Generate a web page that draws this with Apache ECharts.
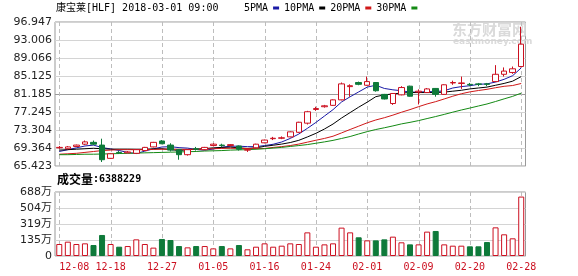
<!DOCTYPE html>
<html><head><meta charset="utf-8">
<script src="https://cdn.jsdelivr.net/npm/echarts@6/dist/echarts.min.js"></script>
<style>html,body{margin:0;padding:0;background:#fff}#c{width:578px;height:276px}</style>
</head><body><div id="c"></div>
<script>
const dates = ['12-08','12-11','12-12','12-13','12-14','12-15','12-18','12-19','12-20','12-21','12-22','12-26','12-27','12-28','12-29',
'01-02','01-03','01-04','01-05','01-08','01-09','01-10','01-11','01-12','01-16','01-17','01-18','01-19','01-22','01-23','01-24','01-25','01-26',
'01-29','01-30','01-31','02-01','02-02','02-05','02-06','02-07','02-08','02-09','02-12','02-13','02-14','02-15','02-16','02-20','02-21','02-22','02-23',
'02-26','02-27','02-28'];
const opens  = [69.4,69.2,69.7,70.2,70.6,70.0,67.1,68.4,68.3,68.2,68.8,69.6,70.9,70.0,69.0,67.9,69.2,69.0,69.9,70.0,69.9,69.8,68.9,69.4,70.5,71.4,71.5,71.8,72.8,74.8,77.8,78.4,78.7,79.9,82.8,83.7,83.1,83.7,81.1,79.1,81.0,82.9,81.6,81.5,82.4,81.1,83.6,83.5,83.3,83.4,83.4,83.9,85.5,85.9,87.2];
const closes = [69.5,69.6,70.0,70.7,70.2,66.8,68.1,68.3,68.5,69.0,69.5,70.6,70.3,68.9,67.9,69.0,69.1,69.5,70.2,69.9,70.1,69.1,69.0,70.2,71.1,71.5,71.6,72.9,75.0,77.3,78.0,78.6,79.9,83.4,83.0,83.3,83.9,81.9,80.1,81.3,82.6,80.7,81.8,82.3,81.1,83.2,83.7,83.6,83.2,83.3,83.3,85.5,86.2,86.7,92.1];
const lows   = [69.2,69.1,69.6,70.0,70.0,66.3,67.0,68.1,68.2,68.1,68.7,69.5,70.2,68.6,66.8,67.7,68.8,68.9,69.7,69.6,69.7,68.8,68.5,69.3,70.4,71.1,71.3,71.7,72.7,74.5,77.5,78.2,78.6,79.8,80.6,83.1,83.0,81.7,80.0,78.8,80.9,80.6,78.9,81.4,80.6,81.0,83.2,82.3,82.9,82.9,82.9,83.8,85.0,85.6,87.0];
const highs  = [69.8,69.8,70.1,71.0,71.0,71.4,68.2,68.7,68.7,69.1,69.6,70.7,71.1,70.4,69.1,69.1,69.6,69.6,70.4,70.3,70.2,69.9,69.3,70.3,71.2,71.8,71.9,73.0,75.1,77.5,78.4,78.8,80.0,83.7,83.3,83.9,85.0,83.8,81.2,81.4,82.9,83.0,82.2,82.5,82.5,83.3,84.1,85.0,83.6,83.6,83.6,87.5,87.0,87.2,95.9];
const volumes = [129,154,129,136,118,226,129,100,107,179,129,90,183,172,107,93,107,107,82,107,82,118,72,100,136,100,111,136,129,254,100,125,136,305,254,201,168,168,179,208,147,125,125,262,269,125,111,111,104,104,150,308,233,190,638.8229];
const ma5  = [68.6,69.0,69.4,69.8,70.0,69.46,69.16,68.82,68.38,68.14,68.68,69.18,69.58,69.66,69.44,69.34,69.04,68.88,69.14,69.54,69.76,69.76,69.66,69.66,69.9,70.18,70.68,71.46,72.42,73.66,74.96,76.36,77.76,79.44,80.58,81.64,82.7,83.1,82.4,82.1,81.9,81.6,81.6,81.7,81.7,81.9,82.5,82.8,83.0,83.3,83.4,83.8,84.4,85.2,86.9];
const ma10 = [68.9,69.0,69.1,69.2,69.3,69.2,69.1,69.1,69.1,69.07,69.07,69.17,69.2,69.02,68.79,69.01,69.11,69.23,69.4,69.49,69.55,69.4,69.27,69.4,69.72,69.97,70.22,70.56,71.04,71.78,72.57,73.52,74.61,75.93,77.12,78.3,79.4,80.6,81.0,81.2,81.4,81.5,81.5,81.5,81.5,81.6,81.8,82.0,82.3,82.5,82.7,83.1,83.5,84.0,85.0];
const ma20 = [68.0,68.1,68.2,68.4,68.6,68.8,68.9,69.0,69.0,69.0,69.0,69.05,69.1,69.1,69.05,69.05,69.1,69.15,69.2,69.28,69.31,69.29,69.24,69.21,69.26,69.49,69.67,69.9,70.22,70.64,71.06,71.46,71.94,72.67,73.42,74.14,74.88,75.5,75.99,76.56,77.19,77.77,78.41,79.01,79.51,80.1,80.7,81.24,81.65,81.95,82.21,82.56,82.87,83.04,83.49];
const ma30 = [67.9,67.9,67.95,68.0,68.0,68.05,68.1,68.15,68.2,68.25,68.3,68.35,68.4,68.45,68.5,68.55,68.6,68.7,68.75,68.8,68.9,68.95,69.0,69.1,69.2,69.35,69.5,69.7,69.9,70.11,70.4,70.7,71.03,71.45,71.88,72.43,72.95,73.41,73.79,74.2,74.64,74.98,75.36,75.81,76.25,76.72,77.21,77.68,78.11,78.56,79.0,79.54,80.12,80.67,81.37];
const priceTicks = ['65.423','69.364','73.304','77.245','81.185','85.125','89.066','93.006','96.947'];
const volTicks = ['0','135万','319万','504万','688万'];
const dateTicks = ['12-08','12-18','12-27','01-05','01-16','01-24','02-01','02-09','02-20','02-28'];
const priceMin = 65.423, priceMax = 96.947;
const volMax = 688, volStep = 172;

const RED = '#cc1020', GREEN = '#0e7a3a';
const MONO = '"DejaVu Sans Mono","Noto Sans CJK SC",monospace';
const SANS = '"DejaVu Sans","Noto Sans CJK SC",sans-serif';

const candles = dates.map((d, i) => [opens[i], closes[i], lows[i], highs[i]]);
const volItems = volumes.map((v, i) => closes[i] >= opens[i]
  ? { value: v, itemStyle: { color: '#ffffff', borderColor: RED, borderWidth: 1 } }
  : { value: v, itemStyle: { color: GREEN, borderColor: GREEN, borderWidth: 1 } });

const isDateTick = (i, v) => dateTicks.indexOf(dates[i]) >= 0;
const gridBase = { left: 55, right: 52.5, show: true, borderColor: '#999', borderWidth: 1, outerBoundsMode: 'none' };
const hairGrey = '#d4d4d4';
// dashed vertical guides at the labelled dates, positioned through the category axis
const vLines = (xi, yi, yRef) => ({
  type: 'custom', xAxisIndex: xi, yAxisIndex: yi, z: 1, silent: true,
  data: dateTicks.map((d) => [d]), encode: { x: 0 },
  renderItem: (params, api) => {
    const x = Math.round(api.coord([api.value(0), yRef])[0]) + 0.5;
    const cs = params.coordSys;
    return { type: 'line', silent: true,
      shape: { x1: x, y1: cs.y, x2: x, y2: cs.y + cs.height },
      style: { stroke: '#bdbdbd', lineWidth: 1, lineDash: [4, 3] } };
  }
});

const chart = echarts.init(document.getElementById('c'), null, { renderer: 'canvas' });
const maLine = (name, data, color) => ({
  name, type: 'line', data, xAxisIndex: 0, yAxisIndex: 0, symbol: 'none', showSymbol: false,
  lineStyle: { color, width: 1 }, itemStyle: { color }, z: 3
});
chart.setOption({
  animation: false,
  backgroundColor: '#fff',
  title: [
    { text: '康宝莱[HLF] 2018-03-01 09:00', left: 56, top: 3, padding: 0,
      textStyle: { fontSize: 10, fontWeight: 'normal', fontFamily: MONO, color: '#000' } },
    { text: '{a|成交量}{b|:6388229}', left: 57, top: 173, padding: 0,
      textStyle: { rich: { a: { fontSize: 12, fontFamily: '"Noto Sans CJK SC"', color: '#000' },
                            b: { fontSize: 10, fontFamily: MONO, color: '#000' } } } }
  ],
  legend: {
    data: ['5PMA', '10PMA', '20PMA', '30PMA'], left: 244, top: 3, padding: 0,
    align: 'right', icon: 'rect', itemWidth: 6, itemHeight: 3, itemGap: 5, selectedMode: false,
    textStyle: { fontSize: 10, fontFamily: MONO, color: '#000', padding: [0, 0, 0, 0] }
  },
  graphic: [
    { type: 'text', left: 452, top: 22, z: 0, silent: true,
      style: { text: '东方财富网', fill: '#dadada', font: 'bold 15px "Noto Sans CJK SC"' } },
    { type: 'text', left: 453, top: 37, z: 0, silent: true,
      style: { text: 'eastmoney.com', fill: '#dadada', font: 'bold 9px "DejaVu Sans"' } }
  ],
  grid: [
    Object.assign({ top: 22, height: 144 }, gridBase),
    Object.assign({ top: 192, height: 64 }, gridBase)
  ],
  xAxis: [
    { type: 'category', gridIndex: 0, data: dates, boundaryGap: true,
      axisLine: { show: false }, axisTick: { show: false }, axisLabel: { show: false }, splitLine: { show: false } },
    { type: 'category', gridIndex: 1, data: dates, boundaryGap: true,
      axisLine: { show: false }, axisTick: { show: false }, splitLine: { show: false },
      axisLabel: { show: true, interval: isDateTick, margin: 6, color: RED, fontSize: 10, fontFamily: MONO, alignMinLabel: 'left' } }
  ],
  yAxis: [
    { type: 'value', gridIndex: 0, position: 'left', min: priceMin, max: priceMax, scale: true,
      axisLine: { show: false }, axisTick: { show: false }, axisLabel: { show: false }, splitLine: { show: false } },
    { type: 'value', gridIndex: 0, position: 'left', offset: 0, min: 0, max: priceTicks.length - 1, interval: 1,
      axisLine: { show: false }, axisTick: { show: false },
      axisLabel: { margin: 3, fontSize: 11, fontFamily: SANS, color: '#222', formatter: (v) => priceTicks[Math.round(v)] },
      splitLine: { show: true, lineStyle: { width: 1, color: [hairGrey, hairGrey, hairGrey, hairGrey, '#9a9a9a', hairGrey, hairGrey, hairGrey, hairGrey] } } },
    { type: 'value', gridIndex: 1, position: 'left', min: 0, max: volMax, interval: volStep,
      axisLine: { show: false }, axisTick: { show: false },
      axisLabel: { margin: 3, fontSize: 11, fontFamily: SANS, color: '#222', formatter: (v) => volTicks[Math.round(v / volStep)] },
      splitLine: { show: true, lineStyle: { width: 1, color: hairGrey } } }
  ],
  series: [
    vLines(0, 0, priceMin),
    vLines(1, 2, 0),
    { name: 'K', type: 'candlestick', data: candles, xAxisIndex: 0, yAxisIndex: 0, barWidth: 6, z: 4,
      itemStyle: { color: '#ffffff', color0: GREEN, borderColor: RED, borderColor0: GREEN, borderWidth: 1 } },
    maLine('5PMA', ma5, '#1a1aa6'),
    maLine('10PMA', ma10, '#000000'),
    maLine('20PMA', ma20, '#d01818'),
    maLine('30PMA', ma30, '#148a14'),
    { name: 'VOL', type: 'bar', data: volItems, xAxisIndex: 1, yAxisIndex: 2, barWidth: 6, z: 2 }
  ]
});
</script>
</body></html>
